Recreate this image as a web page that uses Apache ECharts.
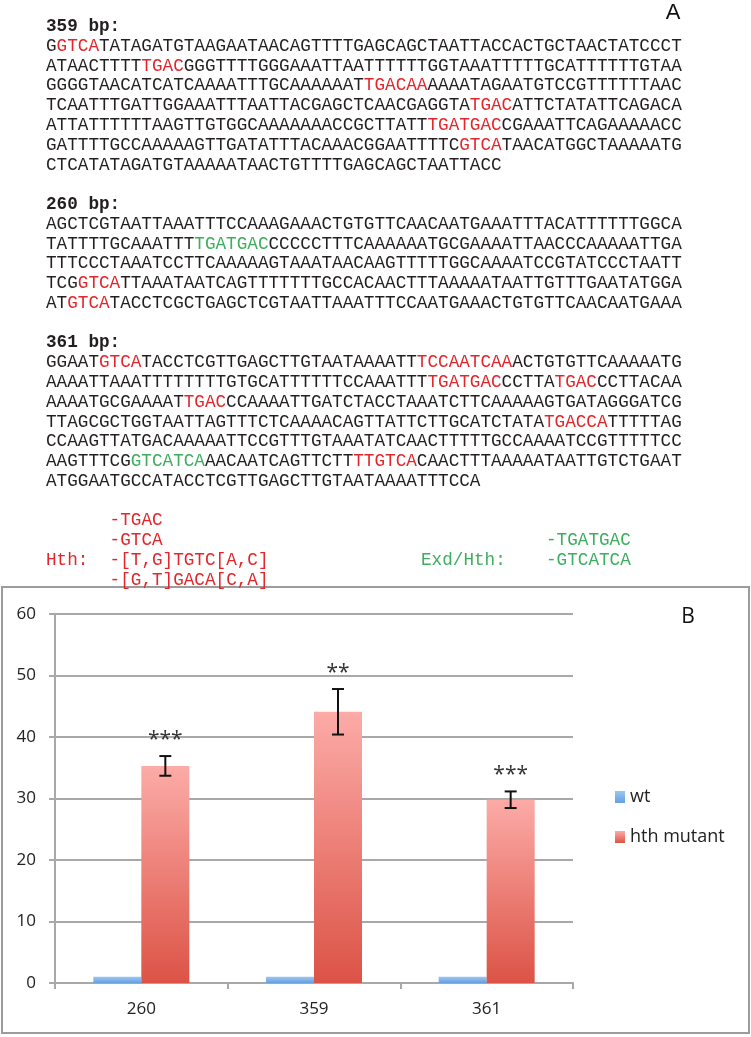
<!DOCTYPE html>
<html><head><meta charset="utf-8">
<script src="https://cdn.jsdelivr.net/npm/echarts@6/dist/echarts.min.js"></script>
<style>html,body{margin:0;padding:0;background:#fff}#c{width:751px;height:1037px}</style>
</head><body><div id="c"></div>
<script>
// ---- data ----
const categories = ['260', '359', '361'];
const wtValues = [1, 1, 1];
const hthValues = [35.3, 44.1, 29.8];
const hthErrors = [1.6, 3.7, 1.35];
const significance = ['***', '**', '***'];
const seriesNames = ['wt', 'hth mutant'];

// * ... * = red motif, ^ ... ^ = green motif
const seq359 = [
  'G*GTCA*TATAGATGTAAGAATAACAGTTTTGAGCAGCTAATTACCACTGCTAACTATCCCT',
  'ATAACTTTT*TGAC*GGGTTTTGGGAAATTAATTTTTTGGTAAATTTTTGCATTTTTTGTAA',
  'GGGGTAACATCATCAAAATTTGCAAAAAAT*TGACAA*AAAATAGAATGTCCGTTTTTTAAC',
  'TCAATTTGATTGGAAATTTAATTACGAGCTCAACGAGGTA*TGAC*ATTCTATATTCAGACA',
  'ATTATTTTTTAAGTTGTGGCAAAAAAACCGCTTATT*TGATGAC*CGAAATTCAGAAAAACC',
  'GATTTTGCCAAAAAGTTGATATTTACAAACGGAATTTTC*GTCA*TAACATGGCTAAAAATG',
  'CTCATATAGATGTAAAAATAACTGTTTTGAGCAGCTAATTACC'
];
const seq260 = [
  'AGCTCGTAATTAAATTTCCAAAGAAACTGTGTTCAACAATGAAATTTACATTTTTTGGCA',
  'TATTTTGCAAATTT^TGATGAC^CCCCCTTTCAAAAAATGCGAAAATTAACCCAAAAATTGA',
  'TTTCCCTAAATCCTTCAAAAAGTAAATAACAAGTTTTTGGCAAAATCCGTATCCCTAATT',
  'TCG*GTCA*TTAAATAATCAGTTTTTTTGCCACAACTTTAAAAATAATTGTTTGAATATGGA',
  'AT*GTCA*TACCTCGCTGAGCTCGTAATTAAATTTCCAATGAAACTGTGTTCAACAATGAAA'
];
const seq361 = [
  'GGAAT*GTCA*TACCTCGTTGAGCTTGTAATAAAATT*TCCAATCAA*ACTGTGTTCAAAAATG',
  'AAAATTAAATTTTTTTTGTGCATTTTTTCCAAATTT*TGATGAC*CCTTA*TGAC*CCTTACAA',
  'AAAATGCGAAAAT*TGAC*CCAAAATTGATCTACCTAAATCTTCAAAAAGTGATAGGGATCG',
  'TTAGCGCTGGTAATTAGTTTCTCAAAACAGTTATTCTTGCATCTATA*TGACCA*TTTTTAG',
  'CCAAGTTATGACAAAAATTCCGTTTGTAAATATCAACTTTTTGCCAAAATCCGTTTTTCC',
  'AAGTTTCG^GTCATCA^AACAATCAGTTCTT*TTGTCA*CAACTTTAAAAATAATTGTCTGAAT',
  'ATGGAATGCCATACCTCGTTGAGCTTGTAATAAAATTTCCA'
];
const hthMotifs = ['-TGAC', '-GTCA', '-[T,G]TGTC[A,C]', '-[G,T]GACA[C,A]'];
const exdHthMotifs = ['-TGATGAC', '-GTCATCA'];

// ---- styles ----
const MONO = '"Liberation Mono", "DejaVu Sans Mono", monospace';
const SANS = '"Open Sans", "DejaVu Sans", sans-serif';
const FS = 17.67;
const BLACK = '#231f20', RED = '#e3262b', GREEN = '#3dae5e';
const row0 = 26.5, rowH = 19.77, textX = 46, charW = 10.6;
const rowY = r => row0 + rowH * r;

const richStyles = {
  n: { fill: BLACK, fontFamily: MONO, fontSize: FS },
  r: { fill: RED, fontFamily: MONO, fontSize: FS },
  g: { fill: GREEN, fontFamily: MONO, fontSize: FS }
};
function toRich(s) {
  return s.split(/(\*[^*]+\*|\^[^^]+\^)/).filter(Boolean).map(p => {
    if (p[0] === '*') return '{r|' + p.slice(1, -1) + '}';
    if (p[0] === '^') return '{g|' + p.slice(1, -1) + '}';
    return '{n|' + p + '}';
  }).join('');
}
const graphics = [];
function addText(x, y, text, opts) {
  graphics.push({ type: 'text', x: x, y: y, silent: true,
    style: Object.assign({ text: text, verticalAlign: 'middle', align: 'left',
      fontFamily: MONO, fontSize: FS, fill: BLACK }, opts || {}) });
}
function addBlock(startRow, title, lines) {
  addText(textX, rowY(startRow), title, { fontWeight: 'bold' });
  lines.forEach((l, i) => addText(textX, rowY(startRow + 1 + i), toRich(l), { rich: richStyles }));
  return startRow + 1 + lines.length + 1;
}
let r = 0;
r = addBlock(r, '359 bp:', seq359);
r = addBlock(r, '260 bp:', seq260);
r = addBlock(r, '361 bp:', seq361);
hthMotifs.forEach((m, i) => addText(textX + 6 * charW, rowY(r + i), m, { fill: RED }));
addText(textX, rowY(r + 2), 'Hth:', { fill: RED });
exdHthMotifs.forEach((m, i) => addText(546, rowY(r + 1 + i), m, { fill: GREEN }));
addText(421, rowY(r + 2), 'Exd/Hth:', { fill: GREEN });

addText(673, 13, 'A', { fontFamily: '"Liberation Sans", Arial, sans-serif', fontSize: 22, fill: '#111', align: 'center' });
// chart frame + B label
graphics.push({ type: 'rect', silent: true, z: -1, shape: { x: 2, y: 587, width: 747, height: 446 },
  style: { fill: 'none', stroke: '#9c9c9c', lineWidth: 2 } });
addText(688, 617, 'B', { fontFamily: SANS, fontSize: 21, fill: '#111', align: 'center' });

const axisGray = '#a8a8a8';
const chart = echarts.init(document.getElementById('c'), null, { renderer: 'canvas' });
const BAR_W = 48;
chart.setOption({
  animation: false,
  backgroundColor: '#fff',
  graphic: graphics,
  grid: { left: 55, right: 178, top: 614, bottom: 54 },
  legend: {
    orient: 'vertical', left: 610, top: 783, itemGap: 22,
    itemWidth: 10, itemHeight: 12, icon: 'rect',
    data: seriesNames,
    textStyle: { fontFamily: SANS, fontSize: 18, color: '#222' }
  },
  xAxis: {
    type: 'category', data: categories,
    axisLine: { lineStyle: { color: axisGray, width: 2 } },
    axisTick: { show: true, length: 6, lineStyle: { color: axisGray, width: 2 } },
    axisLabel: { fontFamily: SANS, fontSize: 17, color: '#222', margin: 18 }
  },
  yAxis: {
    type: 'value', min: 0, max: 60, interval: 10,
    axisLine: { show: true, lineStyle: { color: axisGray, width: 2 } },
    axisTick: { show: true, length: 6, lineStyle: { color: axisGray, width: 2 } },
    splitLine: { lineStyle: { color: axisGray, width: 2 } },
    axisLabel: { fontFamily: SANS, fontSize: 17, color: '#222', margin: 19 }
  },
  series: [
    {
      name: seriesNames[0], type: 'bar', data: wtValues, barWidth: BAR_W, barGap: '0%',
      itemStyle: { color: new echarts.graphic.LinearGradient(0, 0, 0, 1, [
        { offset: 0, color: '#9cc6f2' }, { offset: 1, color: '#64a0e0' }]) }
    },
    {
      name: seriesNames[1], type: 'bar', data: hthValues, barWidth: BAR_W, barGap: '0%',
      itemStyle: { color: new echarts.graphic.LinearGradient(0, 0, 0, 1, [
        { offset: 0, color: '#fcaba7' }, { offset: 1, color: '#dc5346' }]) }
    },
    {
      type: 'custom', z: 5,
      data: categories.map((c, i) => [i, hthValues[i], hthErrors[i]]),
      encode: { x: 0, y: 1 },
      renderItem: function (params, api) {
        const i = api.value(0), v = api.value(1), e = api.value(2);
        const c = api.coord([i, v]);
        const hi = api.coord([i, v + e]);
        const lo = api.coord([i, v - e]);
        const x = c[0] + BAR_W / 2;
        const cap = 6;
        const ls = { stroke: '#111', lineWidth: 2 };
        return { type: 'group', children: [
          { type: 'line', shape: { x1: x, y1: hi[1], x2: x, y2: lo[1] }, style: ls },
          { type: 'line', shape: { x1: x - cap, y1: hi[1], x2: x + cap, y2: hi[1] }, style: ls },
          { type: 'line', shape: { x1: x - cap, y1: lo[1], x2: x + cap, y2: lo[1] }, style: ls },
          { type: 'text', x: x, y: hi[1] - 6, style: { text: significance[i], fontFamily: SANS,
            fontSize: 21, fill: '#333', align: 'center', verticalAlign: 'bottom' } }
        ] };
      }
    }
  ]
});
</script></body></html>
